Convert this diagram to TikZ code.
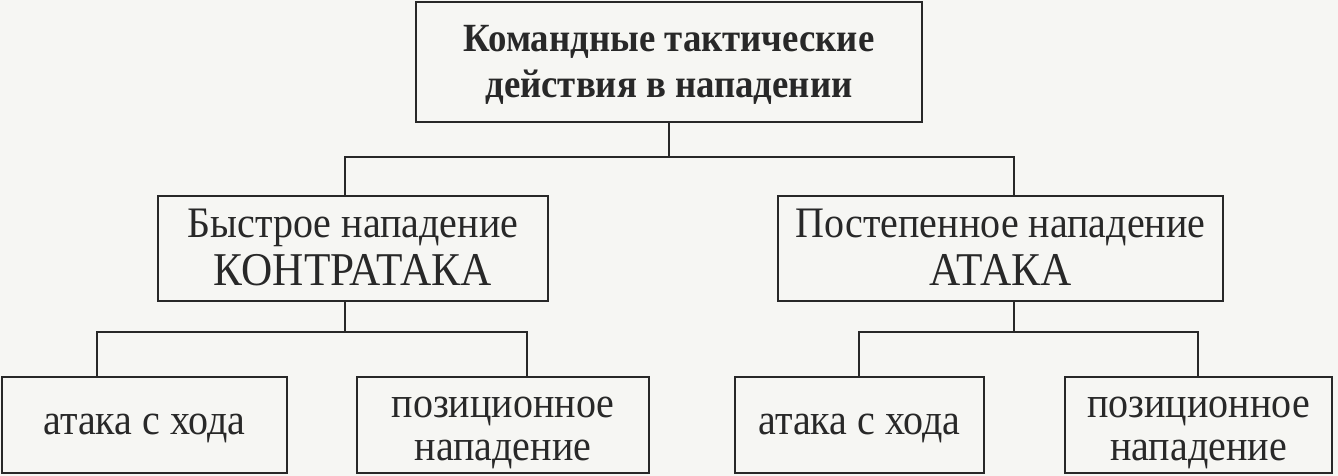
\documentclass[tikz,border=0pt]{standalone}
\usepackage{fontspec}
\setmainfont{Liberation Serif}[FakeStretch=0.92]
\definecolor{paper}{RGB}{246,246,243}
\definecolor{ink}{RGB}{40,40,40}
\newcommand{\lowr}[2]{\raisebox{-#1}[\height][\depth]{#2}}
\begin{document}
\begin{tikzpicture}[x=1pt,y=-1pt,
  box/.style={draw=ink,line width=2pt,inner sep=0pt,align=center,text=ink,
    font=\fontsize{43.5}{50}\selectfont},
  wire/.style={draw=ink,line width=2pt}]
\fill[paper] (0,0) rectangle (1338,476);
\useasboundingbox (0,0) rectangle (1338,476);
% top
\node[box,minimum width=506pt,minimum height=120pt,
  font=\bfseries\fontsize{40}{46}\selectfont] (top) at (669,62)
  {\lowr{3pt}{Командные тактические}\\\lowr{3pt}{действия в нападении}};
% middle
\node[box,minimum width=390pt,minimum height=105pt] (ml) at (353,248.5)
  {Быстрое нападение\\{\fontsize{47}{50}\selectfont\lowr{-2pt}{КОНТРАТАКА}}};
\node[box,minimum width=445pt,minimum height=105pt] (mr) at (1000.5,248.5)
  {Постепенное нападение\\{\fontsize{47}{50}\selectfont\lowr{-2pt}{АТАКА}}};
% bottom
\node[box,minimum width=285pt,minimum height=96pt] (b1) at (144.5,425) {\lowr{3pt}{атака с хода}};
\node[box,minimum width=292pt,minimum height=96pt,font=\fontsize{43.5}{44}\selectfont] (b2) at (503,425) {\lowr{8pt}{позиционное}\\\lowr{7pt}{нападение}};
\node[box,minimum width=249pt,minimum height=96pt] (b3) at (859.5,425) {\lowr{3pt}{атака с хода}};
\node[box,minimum width=267pt,minimum height=96pt,font=\fontsize{43.5}{44}\selectfont] (b4) at (1198.5,425) {\lowr{8pt}{позиционное}\\\lowr{7pt}{нападение}};
% junctions
\coordinate (busL) at (345,157);
\coordinate (busR) at (1014,157);
\coordinate (lbL) at (97,332);
\coordinate (lbR) at (527,332);
\coordinate (rbL) at (859,332);
\coordinate (rbR) at (1198,332);
% connectors
\draw[wire] (top.south) -- (top.south |- busL);
\draw[wire] (busL |- ml.north) -- (busL) -- (busR) -- (busR |- mr.north);
\draw[wire] (busL |- ml.south) -- (busL |- lbL);
\draw[wire] (lbL |- b1.north) -- (lbL) -- (lbR) -- (lbR |- b2.north);
\draw[wire] (busR |- mr.south) -- (busR |- rbL);
\draw[wire] (rbL |- b3.north) -- (rbL) -- (rbR) -- (rbR |- b4.north);
\end{tikzpicture}
\end{document}
